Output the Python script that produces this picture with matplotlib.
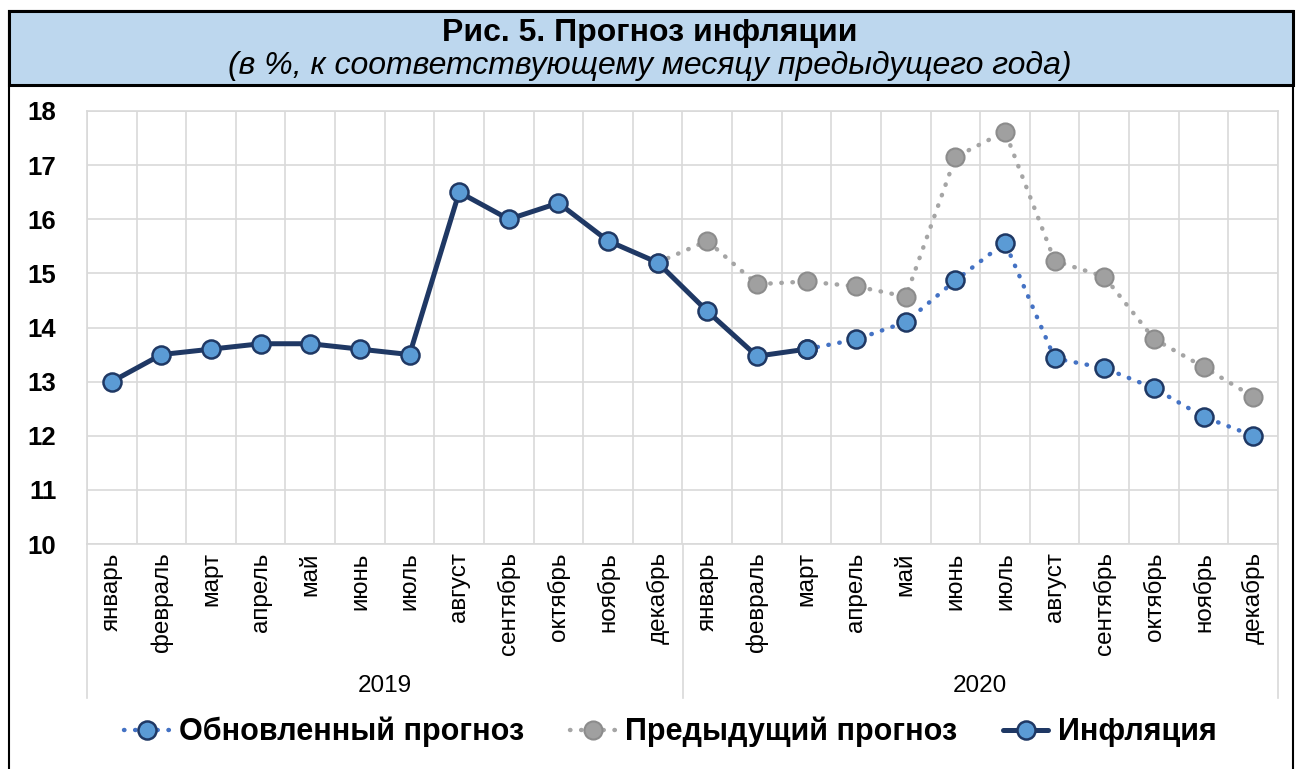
import numpy as np
import matplotlib
matplotlib.use('Agg')
import matplotlib.pyplot as plt
from matplotlib.patches import Rectangle
from matplotlib.lines import Line2D

plt.rcParams['font.family'] = ['Liberation Sans', 'DejaVu Sans']

# Data
months = ['январь', 'февраль', 'март', 'апрель', 'май', 'июнь',
          'июль', 'август', 'сентябрь', 'октябрь', 'ноябрь', 'декабрь']
years = ['2019', '2020']
nan = np.nan
inflation = [13.0, 13.5, 13.6, 13.7, 13.7, 13.6, 13.5, 16.5, 16.0, 16.3, 15.6, 15.2,
             14.3, 13.47, 13.6, nan, nan, nan, nan, nan, nan, nan, nan, nan]
updated = [nan] * 14 + [13.6, 13.78, 14.1, 14.87, 15.57, 13.43, 13.25, 12.88, 12.35, 12.0]
previous = [nan] * 11 + [15.2, 15.6, 14.8, 14.85, 14.76, 14.57, 17.15, 17.62,
                         15.23, 14.94, 13.79, 13.27, 12.72]

W, H = 1300, 769
fig = plt.figure(figsize=(W / 100, H / 100), dpi=100)

def fx(px):
    return px / W

def fy(py):
    return 1 - py / H

# outer frame and title box
fig.patches.append(Rectangle((fx(9), fy(775)), fx(1293) - fx(9), fy(11) - fy(775),
                             transform=fig.transFigure, fill=False, edgecolor='black', lw=1.5))
fig.patches.append(Rectangle((fx(9), fy(85)), fx(1293) - fx(9), fy(11) - fy(85),
                             transform=fig.transFigure, facecolor='#BDD7EE', edgecolor='black', lw=2.2))
fig.text(0.5, fy(33), 'Рис. 5. Прогноз инфляции', ha='center', va='center',
         fontsize=23, fontweight='bold')
fig.text(0.5, fy(66), '(в %, к соответствующему месяцу предыдущего года)', ha='center',
         va='center', fontsize=23, fontstyle='italic')

left, right, top, bottom = 87, 1278, 111, 544
ax = fig.add_axes([fx(left), fy(bottom), fx(right) - fx(left), fy(top) - fy(bottom)])

x = np.arange(24)
grid_c = '#D9D9D9'

ax.plot(x, previous, color='#A5A5A5', lw=3.2, linestyle=(0, (0.1, 2.4)), dash_capstyle='round',
        marker='o', markersize=13, markerfacecolor='#A0A0A0', markeredgecolor='#8C8C8C',
        markeredgewidth=1.5, zorder=3, label='Предыдущий прогноз')
ax.plot(x, updated, color='#4472C4', lw=3.2, linestyle=(0, (0.1, 2.4)), dash_capstyle='round',
        marker='o', markersize=13, markerfacecolor='#5B9BD5', markeredgecolor='#1F3864',
        markeredgewidth=1.8, zorder=4, label='Обновленный прогноз')
ax.plot(x, inflation, color='#1F3864', lw=3.6, solid_capstyle='round',
        marker='o', markersize=13, markerfacecolor='#5B9BD5', markeredgecolor='#1F3864',
        markeredgewidth=1.8, zorder=5, label='Инфляция')

ax.set_xlim(-0.5, 23.5)
ax.set_ylim(10, 18)
ax.set_yticks(range(10, 19))
ax.tick_params(axis='y', length=0, pad=22, labelsize=18.5)
for lbl in ax.get_yticklabels():
    lbl.set_fontweight('bold')

ax.set_xticks(x)
ax.set_xticklabels(months * 2, rotation=90, fontsize=17.5, va='top')
ax.set_xticks(np.arange(-0.5, 24, 1), minor=True)
ax.tick_params(axis='x', which='both', length=0, pad=6)
ax.grid(True, axis='y', which='major', color=grid_c, lw=1.2)
ax.grid(True, axis='x', which='minor', color=grid_c, lw=1.2)
ax.grid(False, axis='x', which='major')
for s in ax.spines.values():
    s.set_color(grid_c)
    s.set_linewidth(1.2)

# year level of category axis
for i, yr in enumerate(years):
    fig.text(fx(left) + (fx(right) - fx(left)) * (0.25 + 0.5 * i), fy(686), yr,
             ha='center', va='center', fontsize=17.5)
for px in [left, (left + right) / 2, right]:
    fig.add_artist(Line2D([fx(px), fx(px)], [fy(bottom), fy(698)], color=grid_c, lw=1.2))

handles, labels = ax.get_legend_handles_labels()
order = [1, 0, 2]
fig.legend([handles[i] for i in order], [labels[i] for i in order], loc='center',
           bbox_to_anchor=(fx(670), fy(732)), ncol=3, frameon=False,
           prop={'weight': 'bold', 'size': 22}, handlelength=1.5, columnspacing=1.5,
           handletextpad=0.3)

fig.savefig('out.png', dpi=100)
